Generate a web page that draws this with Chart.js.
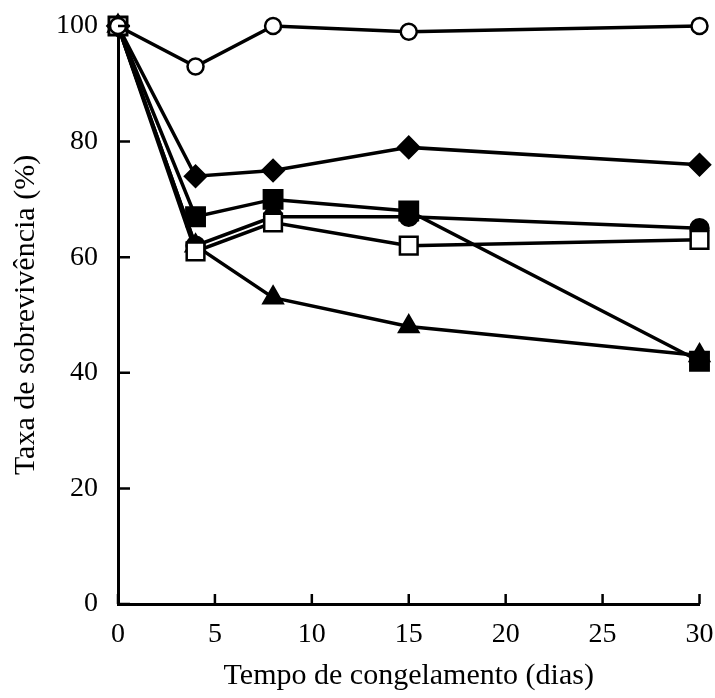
<!DOCTYPE html>
<html>
<head>
<meta charset="utf-8">
<script src="https://cdn.jsdelivr.net/npm/chart.js@4/dist/chart.umd.min.js"></script>
<style>
html,body{margin:0;padding:0;background:#fff;}
#wrap{width:715px;height:698px;}
</style>
</head>
<body>
<div id="wrap"><canvas id="chart" width="715" height="698"></canvas></div>
<script>
// dias de congelamento
const days=[0,4,8,15,30];
const xTicks=[0,5,10,15,20,25,30];
const yTicks=[0,20,40,60,80,100];

// taxa de sobrevivencia (%) por serie
const openCircle=[100,93,100,99,100];
const openSquare=[100,61,66,62,63];
const filledSquare=[100,67,70,68,42];
const diamond=[100,74,75,79,76];
const filledCircle=[100,62,67,67,65];
const triangle=[100,62,53,48,43];

function pts(vals){return days.map((d,i)=>({x:d,y:vals[i]}));}

function serie(vals,style,radius,fill){
return {data:pts(vals),borderColor:"#000",borderWidth:3.5,
pointStyle:style,pointRadius:radius,pointHoverRadius:radius,
pointBackgroundColor:fill,pointBorderColor:"#000",pointBorderWidth:2.5,
tension:0,fill:false,clip:false};
}

// ticks pointing inward
const innerTicks={
id:"innerTicks",
afterDraw(chart){
const ctx=chart.ctx,a=chart.chartArea;
const xs=chart.scales.x,ys=chart.scales.y;
ctx.save();
ctx.strokeStyle="#000";ctx.lineWidth=2.5;
ctx.beginPath();
xTicks.forEach(v=>{
const px=xs.getPixelForValue(v);
ctx.moveTo(px,a.bottom);ctx.lineTo(px,a.bottom-10);
});
yTicks.forEach(v=>{
const py=ys.getPixelForValue(v);
ctx.moveTo(a.left,py);ctx.lineTo(a.left+12,py);
});
ctx.stroke();
ctx.restore();
}
};

Chart.defaults.font.family="'Liberation Serif','Times New Roman',serif";
Chart.defaults.color="#000";

new Chart(document.getElementById("chart"),{
type:"line",
data:{datasets:[
serie(openCircle,"circle",8,"#fff"),
serie(openSquare,"rect",12.5,"#fff"),
serie(filledSquare,"rect",13,"#000"),
serie(diamond,"rectRot",10.5,"#000"),
serie(filledCircle,"circle",9,"#000"),
serie(triangle,"triangle",11,"#000")
]},
options:{
responsive:false,
animation:false,
layout:{padding:{left:4,top:26,right:14,bottom:4}},
plugins:{legend:{display:false},tooltip:{enabled:false}},
scales:{
x:{
type:"linear",min:0,max:30,
afterBuildTicks:s=>{s.ticks=xTicks.map(v=>({value:v}));},
afterFit:s=>{s.height=90;s.paddingLeft=0;s.paddingRight=0;},
grid:{display:true,drawOnChartArea:false,drawTicks:false},
border:{display:true,color:"#000",width:3},
ticks:{font:{size:28},padding:14,maxRotation:0},
title:{display:true,text:"Tempo de congelamento (dias)",font:{size:30},padding:{top:13,bottom:0}}
},
y:{
min:0,max:100,
afterBuildTicks:s=>{s.ticks=yTicks.map(v=>({value:v}));},
afterFit:s=>{s.width=114;s.paddingTop=0;s.paddingBottom=0;},
grid:{display:true,drawOnChartArea:false,drawTicks:false},
border:{display:true,color:"#000",width:3},
ticks:{font:{size:28},padding:20},
title:{display:true,text:"Taxa de sobrevivência (%)",font:{size:30},padding:{top:4,bottom:0}}
}
}
},
plugins:[innerTicks]
});
</script>
</body>
</html>
